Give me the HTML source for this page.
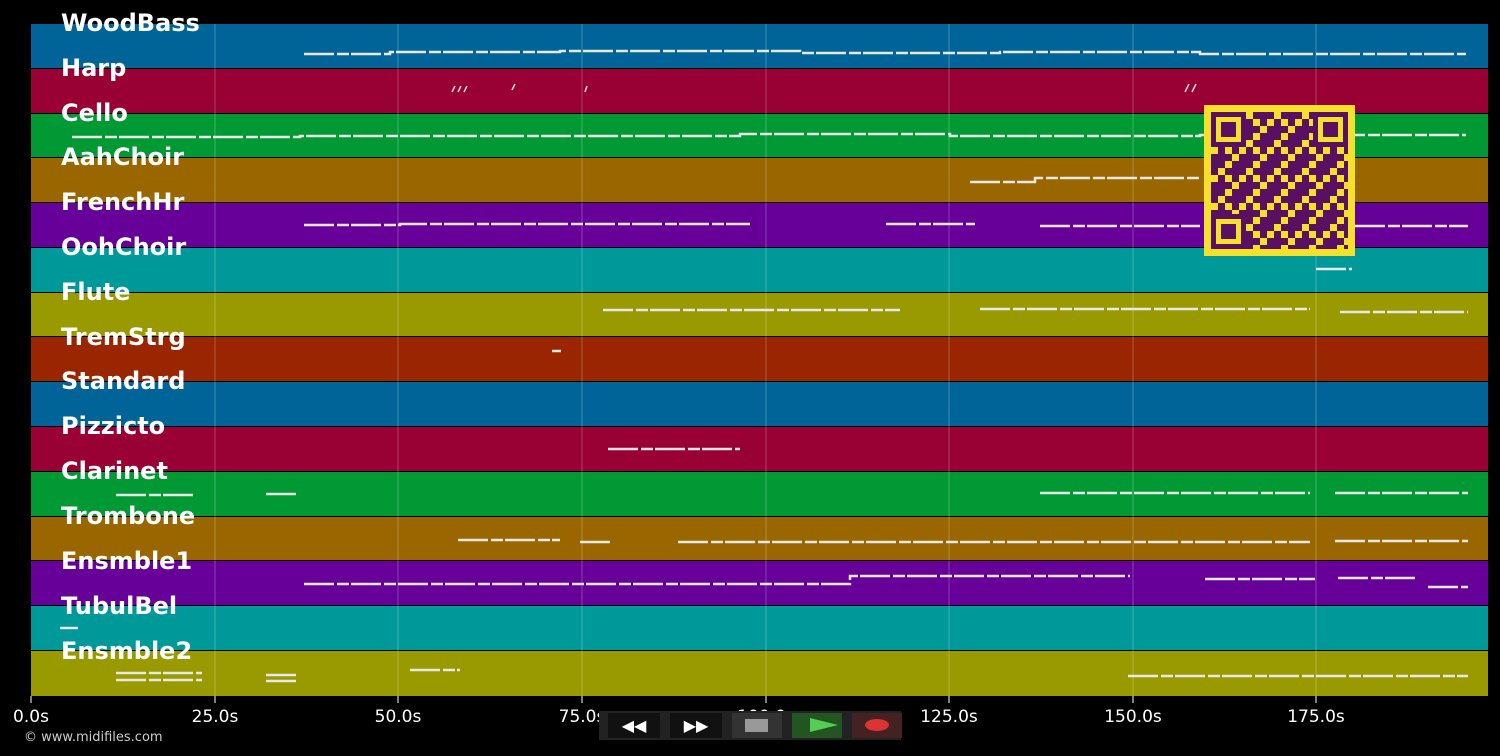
<!DOCTYPE html>
<html><head><style>
body{margin:0;background:#000;width:1500px;height:756px;overflow:hidden;font-family:"DejaVu Sans","Liberation Sans",sans-serif}
</style></head><body>
<svg width="1500" height="756" xmlns="http://www.w3.org/2000/svg" style="position:absolute;left:0;top:0">
<defs>
<pattern id="qr" x="1211" y="112" width="28" height="28" patternUnits="userSpaceOnUse">
<rect width="28" height="28" fill="#f5e02a"/>
<rect x="0" y="0" width="7" height="7" fill="#5a1060"/><rect x="14" y="0" width="14" height="7" fill="#5a1060"/>
<rect x="7" y="7" width="7" height="14" fill="#5a1060"/><rect x="21" y="7" width="7" height="7" fill="#5a1060"/>
<rect x="0" y="14" width="7" height="7" fill="#5a1060"/><rect x="14" y="14" width="7" height="7" fill="#5a1060"/>
<rect x="0" y="21" width="14" height="7" fill="#5a1060"/><rect x="21" y="21" width="7" height="7" fill="#5a1060"/>
</pattern>
</defs>
<rect width="1500" height="756" fill="#000"/>
<g>
<rect x="31" y="24" width="1457" height="44" fill="#006499"/>
<rect x="31" y="69" width="1457" height="44" fill="#990033"/>
<rect x="31" y="114" width="1457" height="43" fill="#009933"/>
<rect x="31" y="158" width="1457" height="44" fill="#996600"/>
<rect x="31" y="203" width="1457" height="44" fill="#660099"/>
<rect x="31" y="248" width="1457" height="44" fill="#009999"/>
<rect x="31" y="293" width="1457" height="43" fill="#999900"/>
<rect x="31" y="337" width="1457" height="44" fill="#992600"/>
<rect x="31" y="382" width="1457" height="44" fill="#006499"/>
<rect x="31" y="427" width="1457" height="44" fill="#990033"/>
<rect x="31" y="472" width="1457" height="44" fill="#009933"/>
<rect x="31" y="517" width="1457" height="43" fill="#996600"/>
<rect x="31" y="561" width="1457" height="44" fill="#660099"/>
<rect x="31" y="606" width="1457" height="44" fill="#009999"/>
<rect x="31" y="651" width="1457" height="45" fill="#999900"/>
</g>
<g stroke="#ffffff" stroke-opacity="0.25" stroke-width="1">
<line x1="215" y1="24" x2="215" y2="696"/><line x1="398" y1="24" x2="398" y2="696"/>
<line x1="582" y1="24" x2="582" y2="696"/><line x1="766" y1="24" x2="766" y2="696"/>
<line x1="949" y1="24" x2="949" y2="696"/><line x1="1133" y1="24" x2="1133" y2="696"/>
<line x1="1316" y1="24" x2="1316" y2="696"/>
</g>
<g stroke="#e8e8e8" stroke-width="2.5" fill="none" stroke-dasharray="30 3 12 2">
<path d="M304 54H390V52H560V51H800V53H1000V52H1200V54H1466"/>
<path d="M72 137H300V136H740V134H950V136H1200V135H1466"/>
<path d="M970 182H1035V178H1200"/>
<path d="M304 225H400V224H750M886 224H975M1040 226H1200M1355 226H1468"/>
<path d="M1316 269H1352"/>
<path d="M603 310H900M980 309H1310M1340 312H1468"/>
<path d="M552 351H561"/>
<path d="M608 449H740"/>
<path d="M116 495H196M266 494H298M1040 493H1310M1335 493H1468"/>
<path d="M458 540H560M580 542H612M678 542H1310M1335 541H1468"/>
<path d="M304 584H850V576H1130M1205 579H1315M1338 578H1415M1428 587H1468"/>
<path d="M60 628H78"/>
<path d="M116 673H202M116 680H202M266 675H297M266 681H297M410 670H460M1128 676H1468"/>
</g>
<g stroke="#ddd" stroke-width="1.5"><path d="M452 92l3-6M458 92l3-6M464 92l3-6M512 90l3-6M585 92l2-6M1185 92l4-8M1192 92l4-8"/></g>
<g font-weight="bold" font-size="24" fill="#fff">
<text x="61" y="31">WoodBass</text><text x="61" y="76">Harp</text><text x="61" y="121">Cello</text>
<text x="61" y="165">AahChoir</text><text x="61" y="210">FrenchHr</text><text x="61" y="255">OohChoir</text>
<text x="61" y="300">Flute</text><text x="61" y="345">TremStrg</text><text x="61" y="389">Standard</text>
<text x="61" y="434">Pizzicto</text><text x="61" y="479">Clarinet</text><text x="61" y="524">Trombone</text>
<text x="61" y="569">Ensmble1</text><text x="61" y="614">TubulBel</text><text x="61" y="659">Ensmble2</text>
</g>
<g stroke="#fff"><line x1="31" y1="696" x2="31" y2="703"/><line x1="215" y1="696" x2="215" y2="703"/><line x1="398" y1="696" x2="398" y2="703"/><line x1="582" y1="696" x2="582" y2="703"/><line x1="766" y1="696" x2="766" y2="703"/><line x1="949" y1="696" x2="949" y2="703"/><line x1="1133" y1="696" x2="1133" y2="703"/><line x1="1316" y1="696" x2="1316" y2="703"/></g>
<g font-size="17" fill="#fff" text-anchor="middle">
<text x="31" y="722">0.0s</text><text x="215" y="722">25.0s</text><text x="398" y="722">50.0s</text><text x="582" y="722">75.0s</text><text x="766" y="722">100.0s</text><text x="949" y="722">125.0s</text><text x="1133" y="722">150.0s</text><text x="1316" y="722">175.0s</text>
</g>
<text x="24" y="741" font-size="13" fill="#ccc">© www.midifiles.com</text>
<rect x="1204" y="105" width="151" height="151" fill="#f5e02a"/>
<rect x="1211" y="112" width="137" height="137" fill="url(#qr)"/>
<g fill="#5a1060">
<rect x="1211" y="112" width="35" height="35"/><rect x="1313" y="112" width="35" height="35"/><rect x="1211" y="214" width="35" height="35"/>
</g>
<g fill="#f5e02a"><rect x="1216" y="117" width="25" height="25"/><rect x="1318" y="117" width="25" height="25"/><rect x="1216" y="219" width="25" height="25"/></g>
<g fill="#5a1060"><rect x="1221" y="122" width="15" height="15"/><rect x="1323" y="122" width="15" height="15"/><rect x="1221" y="224" width="15" height="15"/></g>
<rect x="599" y="711" width="302" height="29" fill="#222"/>
<rect x="608" y="713" width="52" height="25" fill="#111"/><rect x="670" y="713" width="52" height="25" fill="#111"/>
<rect x="732" y="713" width="50" height="25" fill="#333"/><rect x="792" y="713" width="50" height="25" fill="#225522"/><rect x="852" y="713" width="50" height="25" fill="#442222"/>
<text x="634" y="731" font-size="16" fill="#fff" text-anchor="middle" font-weight="bold">◀◀</text>
<text x="696" y="731" font-size="16" fill="#fff" text-anchor="middle" font-weight="bold">▶▶</text>
<rect x="745" y="719" width="23" height="13" fill="#999"/>
<polygon points="810,718 838,725 810,732" fill="#5c5"/>
<ellipse cx="877" cy="725" rx="12" ry="6" fill="#d33"/>
</svg>
</body></html>
